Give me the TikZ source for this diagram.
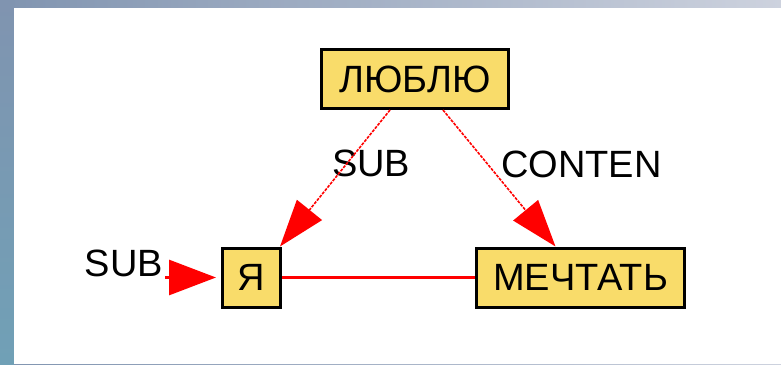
\documentclass[tikz,border=0pt]{standalone}
\usepackage{fontspec}
\setmainfont{Liberation Sans}
\usepackage{tikz}
\usetikzlibrary{arrows.meta,positioning}
\definecolor{boxfill}{RGB}{249,220,106}
\definecolor{linkred}{RGB}{255,0,0}
\definecolor{skyL}{RGB}{128,148,176}
\definecolor{skyR}{RGB}{205,210,222}
\definecolor{skyB}{RGB}{112,160,182}

\tikzset{
  wordbox/.style={draw=black, line width=3pt, fill=boxfill, inner sep=0pt,
    minimum height=59pt, font=\fontsize{38}{38}\selectfont},
  lbl/.style={inner sep=0pt, font=\fontsize{38}{38}\selectfont},
  dotlink/.style={linkred, line width=1.6pt, dash pattern=on 3pt off 1.2pt,
    -{Triangle[length=47pt,width=32pt]}},
  solidlink/.style={linkred, line width=3pt}
}

\begin{document}
\begin{tikzpicture}[x=1pt,y=-1pt]
\useasboundingbox (0,0) rectangle (781,364);
% backdrop
\shade[left color=skyL, right color=skyR] (0,0) rectangle (781,364);
\shade[top color=skyL, bottom color=skyB] (0,0) rectangle (14,364);
\fill[white] (14,8) rectangle (781,364);

\node[wordbox, minimum width=187pt] (lyublyu) at (415,79) {ЛЮБЛЮ};
\node[wordbox, minimum width=58pt] (ya) at (251.5,277.5) {Я};
\node[wordbox, minimum width=208pt] (mechtat) at (580.5,277.5) {МЕЧТАТЬ};

\node[lbl, anchor=base west] (subtxt) at (332,176) {SUB};
\node[lbl, anchor=base west] (contxt) at (501,177) {CONTEN};
\node[lbl, anchor=base east] (subin) at (163,276) {SUB};
\coordinate (subfoot) at (165,277.5);

\draw[dotlink] ([xshift=-25pt]lyublyu.south) -- ([xshift=-2pt]ya.north east);
\draw[dotlink] ([xshift=28pt]lyublyu.south) -- ([xshift=-25pt]mechtat.north);
\draw[solidlink] (ya) -- (mechtat);
\draw[solidlink, shorten >=5pt, -{Triangle[length=47pt,width=35pt]}] (subfoot) -- (ya.west);
\end{tikzpicture}
\end{document}
